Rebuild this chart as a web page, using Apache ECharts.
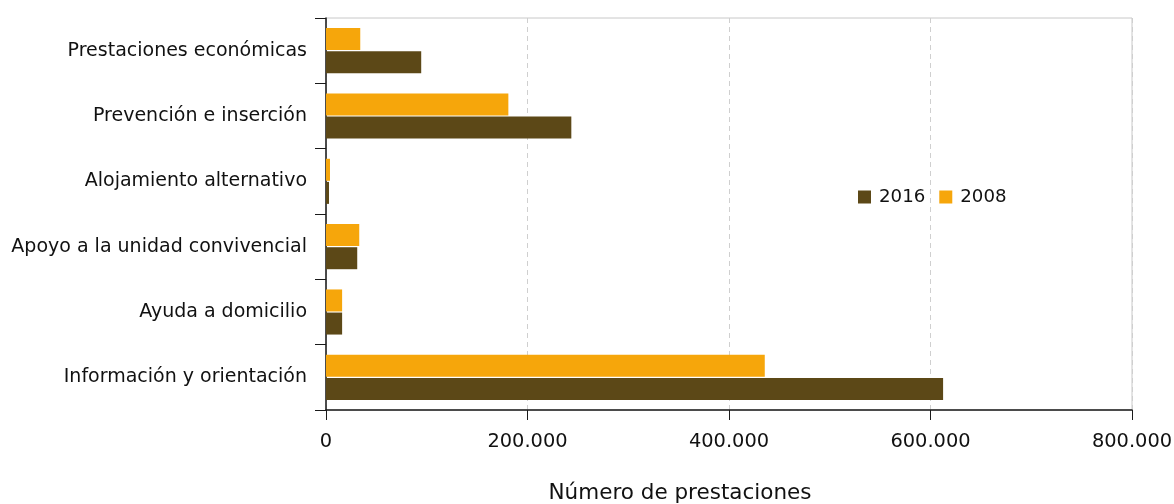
<!DOCTYPE html>
<html>
<head>
<meta charset="utf-8">
<script src="https://cdn.jsdelivr.net/npm/echarts@6/dist/echarts.min.js"></script>
<style>html,body{margin:0;padding:0;background:#fff}#c{width:1174px;height:504px}</style>
</head>
<body>
<div id="c"></div>
<script>
const categories = ["Información y orientación", "Ayuda a domicilio", "Apoyo a la unidad convivencial", "Alojamiento alternativo", "Prevención e inserción", "Prestaciones económicas"];
const values2016 = [612500, 16000, 31000, 3000, 243500, 94500];
const values2008 = [435500, 16000, 33000, 4000, 181000, 34000];
const xTicks = [0, 200000, 400000, 600000, 800000];
const seriesNames = ["2016", "2008"];
const axisTitle = "Número de prestaciones";

const FONT = "DejaVu Sans";
const fmt = v => v === 0 ? "0" : String(v).replace(/\B(?=(\d{3})+(?!\d))/g, ".");

const chart = echarts.init(document.getElementById('c'), null, {renderer: 'canvas'});
chart.setOption({
  animation: false,
  textStyle: {fontFamily: FONT},
  grid: {left: 326, right: 42, top: 18, bottom: 94, containLabel: false, outerBoundsMode: 'none',
         show: true, borderColor: '#c8c8c8', borderWidth: 1, backgroundColor: 'transparent'},
  legend: {
    data: [seriesNames[0], seriesNames[1]],
    left: 853, top: 183, itemWidth: 13, itemHeight: 13, itemGap: 14,
    icon: 'rect',
    textStyle: {fontFamily: FONT, fontSize: 18.2, color: '#111', padding: [0, 0, 0, 3]}
  },
  xAxis: {
    type: 'value', min: xTicks[0], max: xTicks[xTicks.length - 1], interval: xTicks[1] - xTicks[0],
    name: axisTitle, nameLocation: 'middle', nameGap: 72,
    nameTextStyle: {fontFamily: FONT, fontSize: 21.5, color: '#111', padding: [0, 98, 0, 0]},
    axisLine: {show: true, lineStyle: {color: '#1a1a1a', width: 1.5}},
    axisTick: {show: true, length: 10, lineStyle: {color: '#1a1a1a'}},
    axisLabel: {formatter: fmt, fontFamily: FONT, fontSize: 19.4, color: '#111', margin: 22},
    splitLine: {show: true, lineStyle: {color: '#cfcfcf', type: [5, 4], width: 1}}
  },
  yAxis: {
    type: 'category', data: categories,
    axisLine: {show: true, lineStyle: {color: '#1a1a1a', width: 1.5}},
    axisTick: {show: true, length: 11, lineStyle: {color: '#1a1a1a'}},
    axisLabel: {fontFamily: FONT, fontSize: 19, color: '#111', margin: 19, padding: [3, 0, 0, 0]},
    splitLine: {show: false}
  },
  series: [
    {name: seriesNames[1], type: 'bar', data: values2008, barWidth: 22, barGap: '5%', itemStyle: {color: '#F6A60B'}},
    {name: seriesNames[0], type: 'bar', data: values2016, barWidth: 22, barGap: '5%', itemStyle: {color: '#5C4817'}}
  ]
});
</script>
</body>
</html>
